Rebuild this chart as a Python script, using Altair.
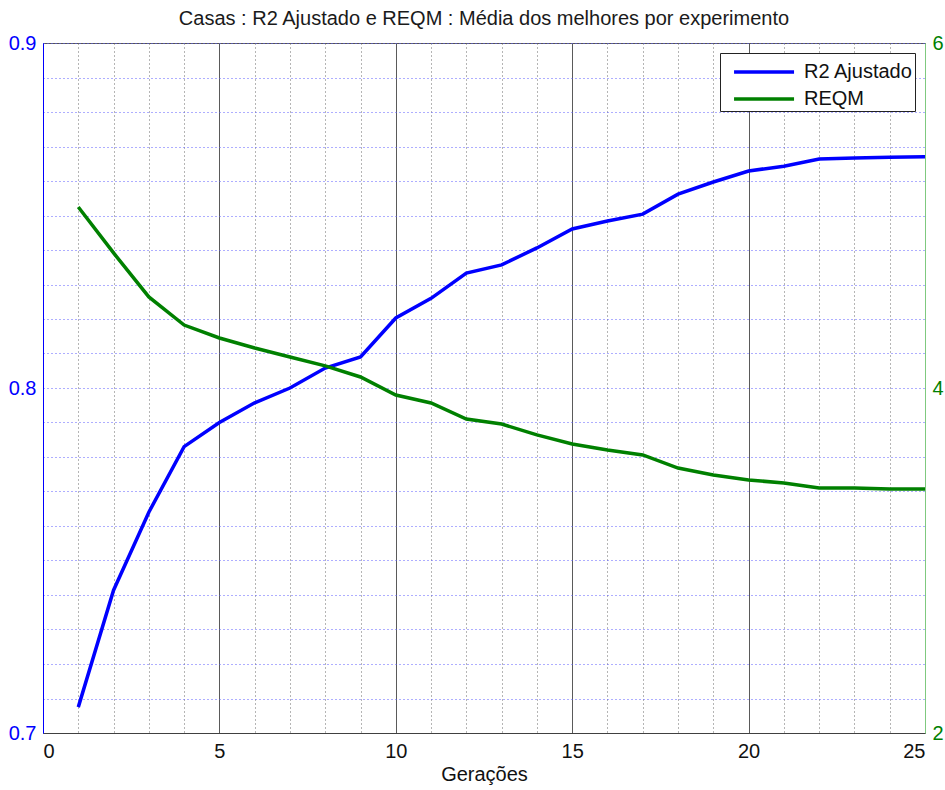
import altair as alt
import pandas as pd

# Generations and the mean of the best individual per experiment
geracoes = list(range(1, 26))
r2_ajustado = [0.7075, 0.7414, 0.7640, 0.7830, 0.7900, 0.7957, 0.8000, 0.8058,
               0.8090, 0.8203, 0.8260, 0.8333, 0.8357, 0.8406, 0.8461, 0.8484,
               0.8504, 0.8562, 0.8597, 0.8629, 0.8643, 0.8664, 0.8667, 0.8669,
               0.8670]
reqm = [5.049, 4.783, 4.528, 4.365, 4.290, 4.232, 4.180, 4.128, 4.064, 3.959,
        3.913, 3.820, 3.791, 3.728, 3.675, 3.641, 3.612, 3.536, 3.496, 3.467,
        3.449, 3.420, 3.420, 3.414, 3.414]

series = ["R2 Ajustado", "REQM"]
series_colors = ["#0000FF", "#008000"]

x_ticks = list(range(0, 26))
left_ticks = [round(0.70 + 0.01 * i, 2) for i in range(21)]
right_ticks = [2, 4, 6]

FONT = "Liberation Sans"

df = pd.DataFrame(
    {"gen": geracoes * 2,
     "serie": [series[0]] * len(geracoes) + [series[1]] * len(geracoes),
     "valor": r2_ajustado + reqm}
)

x_enc = alt.X(
    "gen:Q",
    scale=alt.Scale(domain=[0, 25], nice=False, zero=False),
    axis=alt.Axis(
        title="Gerações",
        values=x_ticks,
        labelExpr="datum.value % 5 === 0 ? datum.label : ''",
        ticks=False,
        labelPadding=8,
        titlePadding=3,
        domainColor="#404040",
        grid=True,
        gridColor={"condition": {"test": "datum.value % 5 === 0", "value": "#5a5a5a"},
                   "value": "#6a6a6a"},
        gridDash={"condition": {"test": "datum.value % 5 === 0", "value": []},
                  "value": [1, 3]},
        gridWidth=1,
    ),
)

# long horizontal stroke for the legend swatch (unit path stretched sideways)
legend_swatch = "M-0.33,0H3.67"

color_enc = alt.Color(
    "serie:N",
    scale=alt.Scale(domain=series, range=series_colors),
    legend=alt.Legend(
        title=None,
        orient="none",
        legendX=677,
        legendY=10,
        symbolType=legend_swatch,
        symbolSize=900,
        symbolStrokeWidth=3.5,
        symbolFillColor="transparent",
        labelFont=FONT,
        labelFontSize=20,
        labelColor="#111111",
        strokeColor="#222222",
        fillColor="white",
        padding=2,
        rowPadding=-4,
        labelOffset=48,
    ),
)

r2_layer = (
    alt.Chart(df)
    .transform_filter(alt.datum.serie == series[0])
    .mark_line(strokeWidth=3.5)
    .encode(
        x=x_enc,
        y=alt.Y(
            "valor:Q",
            scale=alt.Scale(domain=[0.7, 0.9], nice=False, zero=False),
            axis=alt.Axis(
                title=None,
                orient="left",
                values=left_ticks,
                labelExpr="abs(datum.value * 10 - round(datum.value * 10)) < 0.001 ? format(datum.value, '.1f') : ''",
                ticks=False,
                labelPadding=7,
                labelColor="#0000FF",
                domainColor="#0000FF",
                grid=True,
                gridColor="#5c5cff",
                gridDash=[1, 3],
                gridWidth=1,
            ),
        ),
        color=color_enc,
    )
)

reqm_layer = (
    alt.Chart(df)
    .transform_filter(alt.datum.serie == series[1])
    .mark_line(strokeWidth=3.5)
    .encode(
        x=x_enc,
        y=alt.Y(
            "valor:Q",
            scale=alt.Scale(domain=[2, 6], nice=False, zero=False),
            axis=alt.Axis(
                title=None,
                orient="right",
                values=right_ticks,
                ticks=False,
                labelPadding=7,
                labelColor="#008000",
                domainColor="#7fc97f",
                grid=False,
            ),
        ),
        color=color_enc,
    )
)

chart = (
    alt.layer(r2_layer, reqm_layer)
    .resolve_scale(y="independent")
    .properties(
        width=882,
        height=690,
        autosize=alt.AutoSizeParams(type="none"),
        padding={"left": 43, "top": 43, "right": 20, "bottom": 57},
        background="white",
        title=alt.TitleParams(
            text="Casas : R2 Ajustado e REQM : Média dos melhores por experimento",
            font=FONT,
            fontSize=20,
            fontWeight="normal",
            color="#1a1a1a",
            offset=-12,
            baseline="alphabetic",
        ),
    )
    .configure_view(stroke="#555555", strokeWidth=1)
    .configure_axis(
        labelFont=FONT,
        labelFontSize=20,
        labelColor="#111111",
        titleFont=FONT,
        titleFontSize=20,
        titleFontWeight="normal",
        titleColor="#111111",
        domainWidth=1,
    )
)

chart.save("out.html", embed_options={"renderer": "svg", "actions": False})
